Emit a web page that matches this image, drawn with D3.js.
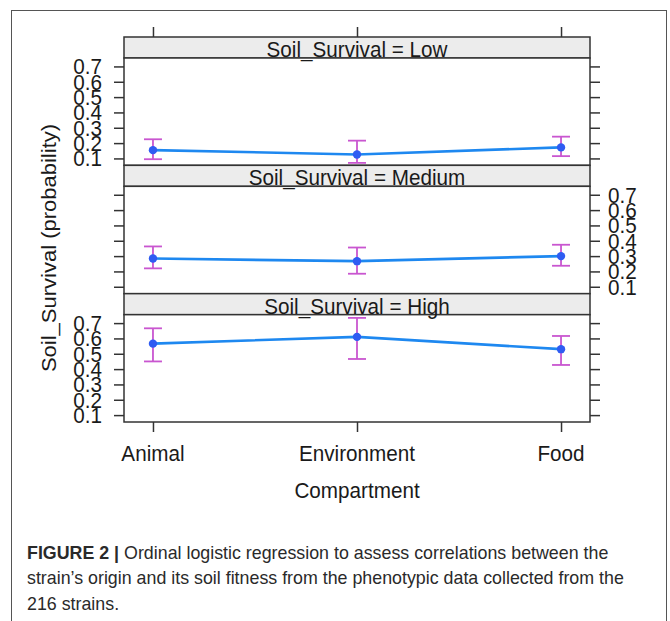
<!DOCTYPE html>
<html>
<head>
<meta charset="utf-8">
<script src="https://cdn.jsdelivr.net/npm/d3@7"></script>
<style>
  html, body { margin: 0; padding: 0; background: #fff; }
  svg { display: block; font-family: "Liberation Sans", Arial, sans-serif; }
</style>
</head>
<body>
<svg id="chart" width="670" height="621"></svg>
<script>
// ---------- data ----------
const categories = ["Animal", "Environment", "Food"];
const levels = ["Low", "Medium", "High"];
const lowFit = [0.154, 0.126, 0.172];
const lowLower = [0.095, 0.071, 0.115];
const lowUpper = [0.225, 0.216, 0.242];
const medFit = [0.284, 0.267, 0.300];
const medLower = [0.220, 0.185, 0.237];
const medUpper = [0.363, 0.356, 0.374];
const highFit = [0.566, 0.610, 0.530];
const highLower = [0.450, 0.466, 0.427];
const highUpper = [0.666, 0.734, 0.616];
const yTicks = [0.1, 0.2, 0.3, 0.4, 0.5, 0.6, 0.7];
const yDomain = [0.055, 0.755];
const xTitle = "Compartment";
const yTitle = "Soil_Survival (probability)";
const captionBold = "FIGURE 2 |";
const captionLines = [
  " Ordinal logistic regression to assess correlations between the",
  "strain\u2019s origin and its soil fitness from the phenotypic data collected from the",
  "216 strains."
];

const fits = [lowFit, medFit, highFit];
const lowers = [lowLower, medLower, highLower];
const uppers = [lowUpper, medUpper, highUpper];

// ---------- layout ----------
const svg = d3.select("#chart");
const SX = 0.94;          // horizontal condensing of text
const FS = 22;            // main font size
const pLeft = 124, pRight = 590, pTop0 = 37, pBottom = 422;
const block = (pBottom - pTop0) / 3, stripH = 21;
const lineCol = "#1e88f0", ptCol = "#2f5cf2", errCol = "#c956d0";

svg.append("rect").attr("x", 11.5).attr("y", 10.5).attr("width", 655).attr("height", 640)
  .attr("fill", "none").attr("stroke", "#555").attr("stroke-width", 1);

const x = d3.scalePoint().domain(categories).range([pLeft, pRight]).padding(0.142);

function txt(g, xPos, yPos, s, anchor, size, weight) {
  return g.append("text")
    .attr("transform", `translate(${xPos},${yPos}) scale(${SX},1)`)
    .attr("text-anchor", anchor || "start")
    .attr("font-size", size || FS)
    .attr("font-weight", weight || "normal")
    .attr("fill", "#1a1a1a")
    .text(s);
}

levels.forEach((lev, i) => {
  const sTop = pTop0 + i * block;
  const pTop = sTop + stripH;
  const pBot = sTop + block;
  const y = d3.scaleLinear().domain(yDomain).range([pBot, pTop]);
  const g = svg.append("g");

  g.append("rect").attr("x", pLeft).attr("y", sTop).attr("width", pRight - pLeft).attr("height", stripH)
    .attr("fill", "#ececec").attr("stroke", "#333").attr("stroke-width", 1.5);
  g.append("rect").attr("x", pLeft).attr("y", pTop).attr("width", pRight - pLeft).attr("height", pBot - pTop)
    .attr("fill", "#fff").attr("stroke", "#333").attr("stroke-width", 1.5);

  const labelLeft = (i % 2 === 0);
  const axL = g.append("g").attr("transform", `translate(${pLeft},0)`)
    .call(d3.axisLeft(y).tickValues(yTicks).tickSize(10).tickFormat(""));
  const axR = g.append("g").attr("transform", `translate(${pRight},0)`)
    .call(d3.axisRight(y).tickValues(yTicks).tickSize(10).tickFormat(""));
  [axL, axR].forEach(a => {
    a.select(".domain").remove();
    a.selectAll("line").attr("stroke", "#333").attr("stroke-width", 1.5);
  });
  yTicks.forEach(t => {
    const ty = y(t) + FS * 0.36;
    if (labelLeft) txt(g, pLeft - 22, ty, d3.format(".1f")(t), "end");
    else txt(g, pRight + 18, ty, d3.format(".1f")(t), "start");
  });

  const fit = fits[i], lo = lowers[i], up = uppers[i];
  categories.forEach((c, j) => {
    const cx = x(c);
    g.append("line").attr("x1", cx).attr("x2", cx).attr("y1", y(lo[j])).attr("y2", y(up[j]))
      .attr("stroke", errCol).attr("stroke-width", 1.8);
    [lo[j], up[j]].forEach(v => {
      g.append("line").attr("x1", cx - 9).attr("x2", cx + 9).attr("y1", y(v)).attr("y2", y(v))
        .attr("stroke", errCol).attr("stroke-width", 1.8);
    });
  });
  const line = d3.line().x((d, j) => x(categories[j])).y(d => y(d));
  g.append("path").datum(fit).attr("d", line).attr("fill", "none")
    .attr("stroke", lineCol).attr("stroke-width", 2.6);
  g.selectAll("circle.pt").data(fit).enter().append("circle")
    .attr("cx", (d, j) => x(categories[j])).attr("cy", d => y(d)).attr("r", 4.2)
    .attr("fill", ptCol);

  txt(g, (pLeft + pRight) / 2, pTop - 1, `Soil_Survival = ${lev}`, "middle");
});

const axTop = svg.append("g").attr("transform", `translate(0,${pTop0})`)
  .call(d3.axisTop(x).tickSize(10).tickFormat(""));
const axBot = svg.append("g").attr("transform", `translate(0,${pBottom})`)
  .call(d3.axisBottom(x).tickSize(10).tickFormat(""));
[axTop, axBot].forEach(a => {
  a.select(".domain").remove();
  a.selectAll("line").attr("stroke", "#333").attr("stroke-width", 1.5);
});
categories.forEach(c => txt(svg, x(c), 461, c, "middle"));

txt(svg, (pLeft + pRight) / 2, 498, xTitle, "middle");
svg.append("text")
  .attr("transform", `translate(56,248) scale(${SX},1) rotate(-90)`)
  .attr("text-anchor", "middle").attr("font-size", FS).attr("fill", "#1a1a1a")
  .text(yTitle);

const cap = svg.append("text")
  .attr("transform", `translate(27,559) scale(0.99,1)`)
  .attr("font-size", 18).attr("fill", "#2a2a2a");
cap.append("tspan").attr("x", 0).attr("y", 0).attr("font-weight", "bold").text(captionBold);
cap.append("tspan").text(captionLines[0]);
captionLines.slice(1).forEach((l, k) => {
  cap.append("tspan").attr("x", 0).attr("y", 25.5 * (k + 1)).text(l);
});
</script>
</body>
</html>
